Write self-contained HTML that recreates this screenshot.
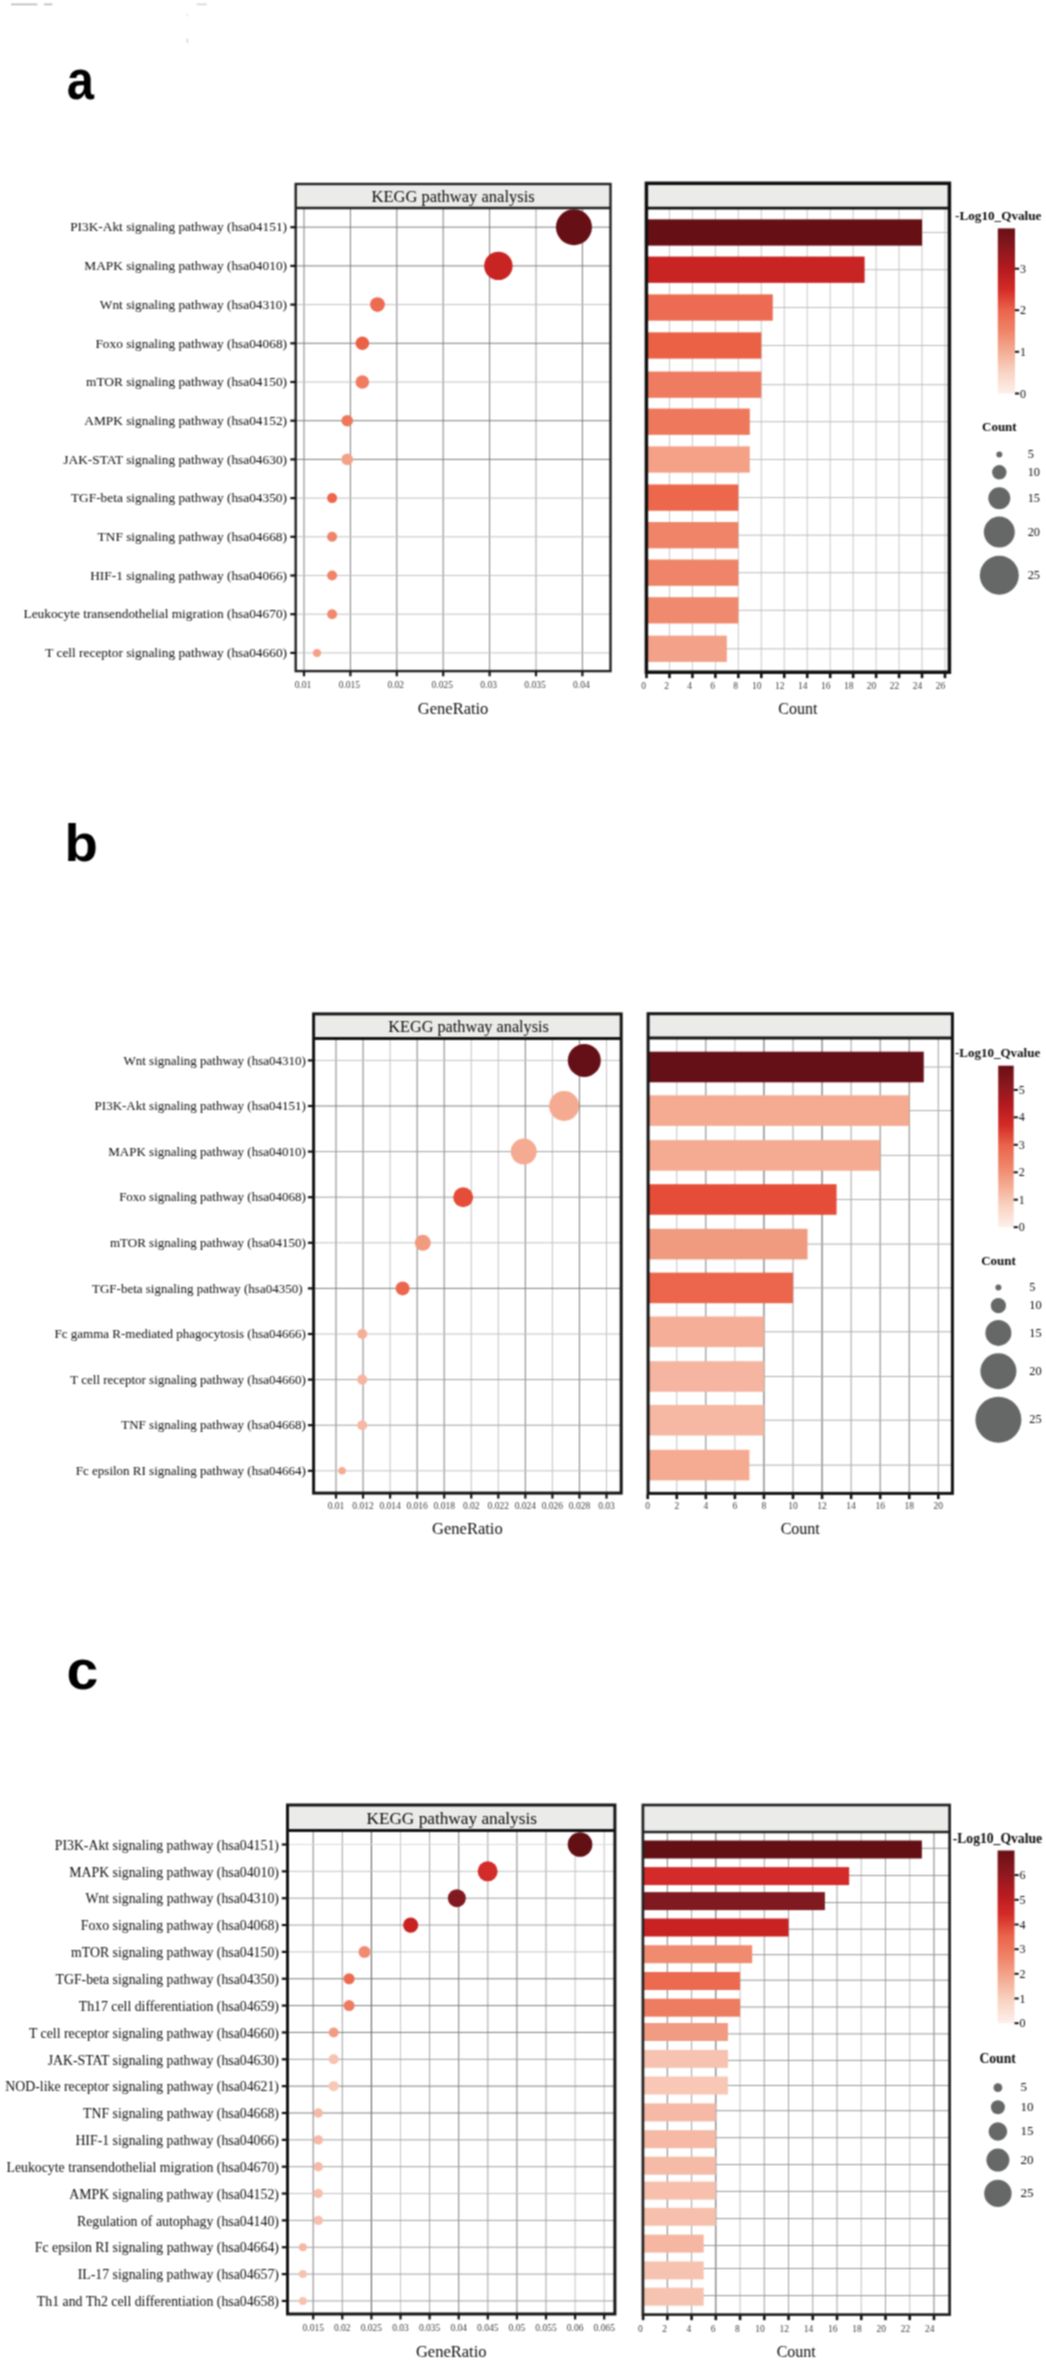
<!DOCTYPE html><html><head><meta charset="utf-8"><title>KEGG pathway analysis</title>
<style>html,body{margin:0;padding:0;background:#fff;}body{width:1046px;height:2363px;overflow:hidden;}svg{display:block;}</style></head><body>
<svg width="1046" height="2363" viewBox="0 0 1046 2363">
<defs><linearGradient id="ga" x1="0" y1="0" x2="0" y2="1"><stop offset="0" stop-color="#690f16"/><stop offset="0.12" stop-color="#8a181e"/><stop offset="0.245" stop-color="#b41a20"/><stop offset="0.37" stop-color="#d42b27"/><stop offset="0.497" stop-color="#ea654b"/><stop offset="0.62" stop-color="#ef8468"/><stop offset="0.748" stop-color="#f4ad95"/><stop offset="0.87" stop-color="#f9d3c3"/><stop offset="1" stop-color="#fdf0ea"/></linearGradient><linearGradient id="gb" x1="0" y1="0" x2="0" y2="1"><stop offset="0" stop-color="#690f16"/><stop offset="0.12" stop-color="#8a181e"/><stop offset="0.245" stop-color="#b41a20"/><stop offset="0.37" stop-color="#d42b27"/><stop offset="0.497" stop-color="#ea654b"/><stop offset="0.62" stop-color="#ef8468"/><stop offset="0.748" stop-color="#f4ad95"/><stop offset="0.87" stop-color="#f9d3c3"/><stop offset="1" stop-color="#fdf0ea"/></linearGradient><linearGradient id="gc" x1="0" y1="0" x2="0" y2="1"><stop offset="0" stop-color="#690f16"/><stop offset="0.12" stop-color="#8a181e"/><stop offset="0.245" stop-color="#b41a20"/><stop offset="0.37" stop-color="#d42b27"/><stop offset="0.497" stop-color="#ea654b"/><stop offset="0.62" stop-color="#ef8468"/><stop offset="0.748" stop-color="#f4ad95"/><stop offset="0.87" stop-color="#f9d3c3"/><stop offset="1" stop-color="#fdf0ea"/></linearGradient><filter id="soft" x="0" y="0" width="100%" height="100%" filterUnits="userSpaceOnUse" color-interpolation-filters="sRGB"><feConvolveMatrix order="3" kernelMatrix="1 2 1 2 4 2 1 2 1" edgeMode="duplicate" preserveAlpha="true"/></filter></defs>
<g filter="url(#soft)">
<rect x="0.00" y="0.00" width="1046.00" height="2363.00" fill="#fff" />
<line x1="11.00" y1="4.40" x2="37.40" y2="4.40" stroke="#b4b4b4" stroke-width="1.5" />
<line x1="44.00" y1="4.40" x2="52.30" y2="4.40" stroke="#b4b4b4" stroke-width="1.5" />
<line x1="196.80" y1="4.40" x2="206.70" y2="4.40" stroke="#d0d0d0" stroke-width="1.4" />
<line x1="187.30" y1="13.00" x2="187.30" y2="16.50" stroke="#e4e4e4" stroke-width="1" />
<line x1="187.30" y1="38.50" x2="187.30" y2="43.00" stroke="#c4c4c4" stroke-width="1" />
<rect x="295.70" y="184.00" width="314.80" height="24.00" fill="#ebebea" />
<rect x="646.40" y="183.30" width="303.00" height="24.80" fill="#ebebea" />
<line x1="304.00" y1="208.00" x2="304.00" y2="671.10" stroke="#7e7e7e" stroke-width="1" />
<line x1="350.40" y1="208.00" x2="350.40" y2="671.10" stroke="#7e7e7e" stroke-width="1" />
<line x1="396.80" y1="208.00" x2="396.80" y2="671.10" stroke="#7e7e7e" stroke-width="1" />
<line x1="443.20" y1="208.00" x2="443.20" y2="671.10" stroke="#7e7e7e" stroke-width="1" />
<line x1="489.60" y1="208.00" x2="489.60" y2="671.10" stroke="#7e7e7e" stroke-width="1" />
<line x1="536.00" y1="208.00" x2="536.00" y2="671.10" stroke="#a0a0a0" stroke-width="1" />
<line x1="582.40" y1="208.00" x2="582.40" y2="671.10" stroke="#7e7e7e" stroke-width="1" />
<line x1="295.70" y1="227.20" x2="610.50" y2="227.20" stroke="#7e7e7e" stroke-width="1" />
<line x1="295.70" y1="265.90" x2="610.50" y2="265.90" stroke="#7e7e7e" stroke-width="1" />
<line x1="295.70" y1="304.60" x2="610.50" y2="304.60" stroke="#c2c2c2" stroke-width="1" />
<line x1="295.70" y1="343.30" x2="610.50" y2="343.30" stroke="#7e7e7e" stroke-width="1" />
<line x1="295.70" y1="382.00" x2="610.50" y2="382.00" stroke="#c2c2c2" stroke-width="1" />
<line x1="295.70" y1="420.70" x2="610.50" y2="420.70" stroke="#7e7e7e" stroke-width="1" />
<line x1="295.70" y1="459.40" x2="610.50" y2="459.40" stroke="#7e7e7e" stroke-width="1" />
<line x1="295.70" y1="498.10" x2="610.50" y2="498.10" stroke="#c2c2c2" stroke-width="1" />
<line x1="295.70" y1="536.80" x2="610.50" y2="536.80" stroke="#c2c2c2" stroke-width="1" />
<line x1="295.70" y1="575.50" x2="610.50" y2="575.50" stroke="#c2c2c2" stroke-width="1" />
<line x1="295.70" y1="614.20" x2="610.50" y2="614.20" stroke="#c2c2c2" stroke-width="1" />
<line x1="295.70" y1="652.90" x2="610.50" y2="652.90" stroke="#c2c2c2" stroke-width="1" />
<line x1="669.46" y1="208.10" x2="669.46" y2="672.20" stroke="#c8c8c8" stroke-width="1" />
<line x1="692.42" y1="208.10" x2="692.42" y2="672.20" stroke="#c8c8c8" stroke-width="1" />
<line x1="715.38" y1="208.10" x2="715.38" y2="672.20" stroke="#c8c8c8" stroke-width="1" />
<line x1="738.34" y1="208.10" x2="738.34" y2="672.20" stroke="#c8c8c8" stroke-width="1" />
<line x1="761.30" y1="208.10" x2="761.30" y2="672.20" stroke="#c8c8c8" stroke-width="1" />
<line x1="784.26" y1="208.10" x2="784.26" y2="672.20" stroke="#c8c8c8" stroke-width="1" />
<line x1="807.22" y1="208.10" x2="807.22" y2="672.20" stroke="#c8c8c8" stroke-width="1" />
<line x1="830.18" y1="208.10" x2="830.18" y2="672.20" stroke="#c8c8c8" stroke-width="1" />
<line x1="853.14" y1="208.10" x2="853.14" y2="672.20" stroke="#c8c8c8" stroke-width="1" />
<line x1="876.10" y1="208.10" x2="876.10" y2="672.20" stroke="#c8c8c8" stroke-width="1" />
<line x1="899.06" y1="208.10" x2="899.06" y2="672.20" stroke="#c8c8c8" stroke-width="1" />
<line x1="922.02" y1="208.10" x2="922.02" y2="672.20" stroke="#c8c8c8" stroke-width="1" />
<line x1="944.98" y1="208.10" x2="944.98" y2="672.20" stroke="#c8c8c8" stroke-width="1" />
<line x1="646.40" y1="232.50" x2="949.40" y2="232.50" stroke="#bcbcbc" stroke-width="1" />
<line x1="646.40" y1="269.70" x2="949.40" y2="269.70" stroke="#bcbcbc" stroke-width="1" />
<line x1="646.40" y1="307.50" x2="949.40" y2="307.50" stroke="#bcbcbc" stroke-width="1" />
<line x1="646.40" y1="345.50" x2="949.40" y2="345.50" stroke="#bcbcbc" stroke-width="1" />
<line x1="646.40" y1="384.70" x2="949.40" y2="384.70" stroke="#bcbcbc" stroke-width="1" />
<line x1="646.40" y1="421.70" x2="949.40" y2="421.70" stroke="#bcbcbc" stroke-width="1" />
<line x1="646.40" y1="459.50" x2="949.40" y2="459.50" stroke="#bcbcbc" stroke-width="1" />
<line x1="646.40" y1="497.60" x2="949.40" y2="497.60" stroke="#bcbcbc" stroke-width="1" />
<line x1="646.40" y1="535.20" x2="949.40" y2="535.20" stroke="#bcbcbc" stroke-width="1" />
<line x1="646.40" y1="572.70" x2="949.40" y2="572.70" stroke="#bcbcbc" stroke-width="1" />
<line x1="646.40" y1="610.30" x2="949.40" y2="610.30" stroke="#bcbcbc" stroke-width="1" />
<line x1="646.40" y1="648.80" x2="949.40" y2="648.80" stroke="#bcbcbc" stroke-width="1" />
<circle cx="573.94" cy="227.20" r="18.00" fill="#660f14"/>
<circle cx="498.37" cy="265.90" r="14.20" fill="#c92424"/>
<circle cx="377.45" cy="304.60" r="7.40" fill="#ed6b52"/>
<circle cx="362.34" cy="343.30" r="6.80" fill="#ea6146"/>
<circle cx="362.34" cy="382.00" r="6.80" fill="#ef7c60"/>
<circle cx="347.23" cy="420.70" r="5.80" fill="#ee785c"/>
<circle cx="347.23" cy="459.40" r="5.80" fill="#f4a188"/>
<circle cx="332.11" cy="498.10" r="5.00" fill="#ec674c"/>
<circle cx="332.11" cy="536.80" r="5.00" fill="#ef8468"/>
<circle cx="332.11" cy="575.50" r="5.00" fill="#ef8468"/>
<circle cx="332.11" cy="614.20" r="5.00" fill="#f08a6e"/>
<circle cx="317.00" cy="652.90" r="4.00" fill="#f4a189"/>
<rect x="646.40" y="219.35" width="275.62" height="26.30" fill="#660f14" />
<rect x="646.40" y="256.55" width="218.22" height="26.30" fill="#c92424" />
<rect x="646.40" y="294.35" width="126.38" height="26.30" fill="#ed6b52" />
<rect x="646.40" y="332.35" width="114.90" height="26.30" fill="#ea6146" />
<rect x="646.40" y="371.55" width="114.90" height="26.30" fill="#ef7c60" />
<rect x="646.40" y="408.55" width="103.42" height="26.30" fill="#ee785c" />
<rect x="646.40" y="446.35" width="103.42" height="26.30" fill="#f4a188" />
<rect x="646.40" y="484.45" width="91.94" height="26.30" fill="#ec674c" />
<rect x="646.40" y="522.05" width="91.94" height="26.30" fill="#ef8468" />
<rect x="646.40" y="559.55" width="91.94" height="26.30" fill="#ef8468" />
<rect x="646.40" y="597.15" width="91.94" height="26.30" fill="#f08a6e" />
<rect x="646.40" y="635.65" width="80.46" height="26.30" fill="#f4a189" />
<rect x="295.70" y="184.00" width="314.80" height="487.10" fill="none" stroke="#222" stroke-width="2.4"/>
<line x1="295.70" y1="208.00" x2="610.50" y2="208.00" stroke="#222" stroke-width="2.4" />
<rect x="646.40" y="183.30" width="303.00" height="488.90" fill="none" stroke="#111" stroke-width="3.5"/>
<line x1="646.40" y1="208.10" x2="949.40" y2="208.10" stroke="#111" stroke-width="2.8" />
<text x="453.10" y="201.50" font-family='"Liberation Serif", serif' font-size="16.5" font-weight="normal" text-anchor="middle" fill="#0c0c0c" >KEGG pathway analysis</text>
<text x="287.00" y="231.47" font-family='"Liberation Serif", serif' font-size="13.35" font-weight="normal" text-anchor="end" fill="#0c0c0c" >PI3K-Akt signaling pathway (hsa04151)</text>
<line x1="290.30" y1="227.20" x2="295.70" y2="227.20" stroke="#111" stroke-width="2.2" />
<text x="287.00" y="270.17" font-family='"Liberation Serif", serif' font-size="13.35" font-weight="normal" text-anchor="end" fill="#0c0c0c" >MAPK signaling pathway (hsa04010)</text>
<line x1="290.30" y1="265.90" x2="295.70" y2="265.90" stroke="#111" stroke-width="2.2" />
<text x="287.00" y="308.87" font-family='"Liberation Serif", serif' font-size="13.35" font-weight="normal" text-anchor="end" fill="#0c0c0c" >Wnt signaling pathway (hsa04310)</text>
<line x1="290.30" y1="304.60" x2="295.70" y2="304.60" stroke="#111" stroke-width="2.2" />
<text x="287.00" y="347.57" font-family='"Liberation Serif", serif' font-size="13.35" font-weight="normal" text-anchor="end" fill="#0c0c0c" >Foxo signaling pathway (hsa04068)</text>
<line x1="290.30" y1="343.30" x2="295.70" y2="343.30" stroke="#111" stroke-width="2.2" />
<text x="287.00" y="386.27" font-family='"Liberation Serif", serif' font-size="13.35" font-weight="normal" text-anchor="end" fill="#0c0c0c" >mTOR signaling pathway (hsa04150)</text>
<line x1="290.30" y1="382.00" x2="295.70" y2="382.00" stroke="#111" stroke-width="2.2" />
<text x="287.00" y="424.97" font-family='"Liberation Serif", serif' font-size="13.35" font-weight="normal" text-anchor="end" fill="#0c0c0c" >AMPK signaling pathway (hsa04152)</text>
<line x1="290.30" y1="420.70" x2="295.70" y2="420.70" stroke="#111" stroke-width="2.2" />
<text x="287.00" y="463.67" font-family='"Liberation Serif", serif' font-size="13.35" font-weight="normal" text-anchor="end" fill="#0c0c0c" >JAK-STAT signaling pathway (hsa04630)</text>
<line x1="290.30" y1="459.40" x2="295.70" y2="459.40" stroke="#111" stroke-width="2.2" />
<text x="287.00" y="502.37" font-family='"Liberation Serif", serif' font-size="13.35" font-weight="normal" text-anchor="end" fill="#0c0c0c" >TGF-beta signaling pathway (hsa04350)</text>
<line x1="290.30" y1="498.10" x2="295.70" y2="498.10" stroke="#111" stroke-width="2.2" />
<text x="287.00" y="541.07" font-family='"Liberation Serif", serif' font-size="13.35" font-weight="normal" text-anchor="end" fill="#0c0c0c" >TNF signaling pathway (hsa04668)</text>
<line x1="290.30" y1="536.80" x2="295.70" y2="536.80" stroke="#111" stroke-width="2.2" />
<text x="287.00" y="579.77" font-family='"Liberation Serif", serif' font-size="13.35" font-weight="normal" text-anchor="end" fill="#0c0c0c" >HIF-1 signaling pathway (hsa04066)</text>
<line x1="290.30" y1="575.50" x2="295.70" y2="575.50" stroke="#111" stroke-width="2.2" />
<text x="287.00" y="618.47" font-family='"Liberation Serif", serif' font-size="13.35" font-weight="normal" text-anchor="end" fill="#0c0c0c" >Leukocyte transendothelial migration (hsa04670)</text>
<line x1="290.30" y1="614.20" x2="295.70" y2="614.20" stroke="#111" stroke-width="2.2" />
<text x="287.00" y="657.17" font-family='"Liberation Serif", serif' font-size="13.35" font-weight="normal" text-anchor="end" fill="#0c0c0c" >T cell receptor signaling pathway (hsa04660)</text>
<line x1="290.30" y1="652.90" x2="295.70" y2="652.90" stroke="#111" stroke-width="2.2" />
<line x1="304.00" y1="671.80" x2="304.00" y2="676.30" stroke="#111" stroke-width="2.2" />
<text x="303.00" y="688.20" font-family='"Liberation Serif", serif' font-size="9.5" font-weight="normal" text-anchor="middle" fill="#3c3c3c" >0.01</text>
<line x1="350.40" y1="671.80" x2="350.40" y2="676.30" stroke="#111" stroke-width="2.2" />
<text x="349.40" y="688.20" font-family='"Liberation Serif", serif' font-size="9.5" font-weight="normal" text-anchor="middle" fill="#3c3c3c" >0.015</text>
<line x1="396.80" y1="671.80" x2="396.80" y2="676.30" stroke="#111" stroke-width="2.2" />
<text x="395.80" y="688.20" font-family='"Liberation Serif", serif' font-size="9.5" font-weight="normal" text-anchor="middle" fill="#3c3c3c" >0.02</text>
<line x1="443.20" y1="671.80" x2="443.20" y2="676.30" stroke="#111" stroke-width="2.2" />
<text x="442.20" y="688.20" font-family='"Liberation Serif", serif' font-size="9.5" font-weight="normal" text-anchor="middle" fill="#3c3c3c" >0.025</text>
<line x1="489.60" y1="671.80" x2="489.60" y2="676.30" stroke="#111" stroke-width="2.2" />
<text x="488.60" y="688.20" font-family='"Liberation Serif", serif' font-size="9.5" font-weight="normal" text-anchor="middle" fill="#3c3c3c" >0.03</text>
<line x1="536.00" y1="671.80" x2="536.00" y2="676.30" stroke="#111" stroke-width="2.2" />
<text x="535.00" y="688.20" font-family='"Liberation Serif", serif' font-size="9.5" font-weight="normal" text-anchor="middle" fill="#3c3c3c" >0.035</text>
<line x1="582.40" y1="671.80" x2="582.40" y2="676.30" stroke="#111" stroke-width="2.2" />
<text x="581.40" y="688.20" font-family='"Liberation Serif", serif' font-size="9.5" font-weight="normal" text-anchor="middle" fill="#3c3c3c" >0.04</text>
<line x1="646.50" y1="673.45" x2="646.50" y2="678.15" stroke="#111" stroke-width="2.6" />
<text x="643.70" y="688.80" font-family='"Liberation Serif", serif' font-size="9.5" font-weight="normal" text-anchor="middle" fill="#3c3c3c" >0</text>
<line x1="669.46" y1="673.45" x2="669.46" y2="678.15" stroke="#111" stroke-width="2.6" />
<text x="666.66" y="688.80" font-family='"Liberation Serif", serif' font-size="9.5" font-weight="normal" text-anchor="middle" fill="#3c3c3c" >2</text>
<line x1="692.42" y1="673.45" x2="692.42" y2="678.15" stroke="#111" stroke-width="2.6" />
<text x="689.62" y="688.80" font-family='"Liberation Serif", serif' font-size="9.5" font-weight="normal" text-anchor="middle" fill="#3c3c3c" >4</text>
<line x1="715.38" y1="673.45" x2="715.38" y2="678.15" stroke="#111" stroke-width="2.6" />
<text x="712.58" y="688.80" font-family='"Liberation Serif", serif' font-size="9.5" font-weight="normal" text-anchor="middle" fill="#3c3c3c" >6</text>
<line x1="738.34" y1="673.45" x2="738.34" y2="678.15" stroke="#111" stroke-width="2.6" />
<text x="735.54" y="688.80" font-family='"Liberation Serif", serif' font-size="9.5" font-weight="normal" text-anchor="middle" fill="#3c3c3c" >8</text>
<line x1="761.30" y1="673.45" x2="761.30" y2="678.15" stroke="#111" stroke-width="2.6" />
<text x="756.80" y="688.80" font-family='"Liberation Serif", serif' font-size="9.5" font-weight="normal" text-anchor="middle" fill="#3c3c3c" >10</text>
<line x1="784.26" y1="673.45" x2="784.26" y2="678.15" stroke="#111" stroke-width="2.6" />
<text x="779.76" y="688.80" font-family='"Liberation Serif", serif' font-size="9.5" font-weight="normal" text-anchor="middle" fill="#3c3c3c" >12</text>
<line x1="807.22" y1="673.45" x2="807.22" y2="678.15" stroke="#111" stroke-width="2.6" />
<text x="802.72" y="688.80" font-family='"Liberation Serif", serif' font-size="9.5" font-weight="normal" text-anchor="middle" fill="#3c3c3c" >14</text>
<line x1="830.18" y1="673.45" x2="830.18" y2="678.15" stroke="#111" stroke-width="2.6" />
<text x="825.68" y="688.80" font-family='"Liberation Serif", serif' font-size="9.5" font-weight="normal" text-anchor="middle" fill="#3c3c3c" >16</text>
<line x1="853.14" y1="673.45" x2="853.14" y2="678.15" stroke="#111" stroke-width="2.6" />
<text x="848.64" y="688.80" font-family='"Liberation Serif", serif' font-size="9.5" font-weight="normal" text-anchor="middle" fill="#3c3c3c" >18</text>
<line x1="876.10" y1="673.45" x2="876.10" y2="678.15" stroke="#111" stroke-width="2.6" />
<text x="871.60" y="688.80" font-family='"Liberation Serif", serif' font-size="9.5" font-weight="normal" text-anchor="middle" fill="#3c3c3c" >20</text>
<line x1="899.06" y1="673.45" x2="899.06" y2="678.15" stroke="#111" stroke-width="2.6" />
<text x="894.56" y="688.80" font-family='"Liberation Serif", serif' font-size="9.5" font-weight="normal" text-anchor="middle" fill="#3c3c3c" >22</text>
<line x1="922.02" y1="673.45" x2="922.02" y2="678.15" stroke="#111" stroke-width="2.6" />
<text x="917.52" y="688.80" font-family='"Liberation Serif", serif' font-size="9.5" font-weight="normal" text-anchor="middle" fill="#3c3c3c" >24</text>
<line x1="944.98" y1="673.45" x2="944.98" y2="678.15" stroke="#111" stroke-width="2.6" />
<text x="940.48" y="688.80" font-family='"Liberation Serif", serif' font-size="9.5" font-weight="normal" text-anchor="middle" fill="#3c3c3c" >26</text>
<text x="453.10" y="713.60" font-family='"Liberation Serif", serif' font-size="16.5" font-weight="normal" text-anchor="middle" fill="#0c0c0c" >GeneRatio</text>
<text x="797.90" y="713.60" font-family='"Liberation Serif", serif' font-size="16" font-weight="normal" text-anchor="middle" fill="#0c0c0c" >Count</text>
<text transform="translate(66.7,98.7) scale(0.885,1)" font-family='"Liberation Sans", sans-serif' font-size="55.3" font-weight="bold" fill="#000">a</text>
<text x="955.00" y="220.30" font-family='"Liberation Serif", serif' font-size="13.2" font-weight="bold" text-anchor="start" fill="#0c0c0c" >-Log10_Qvalue</text>
<rect x="997.80" y="228.40" width="17.20" height="165.10" fill="url(#ga)"/>
<line x1="1015.00" y1="268.70" x2="1019.20" y2="268.70" stroke="#111" stroke-width="2" />
<text x="1020.00" y="272.80" font-family='"Liberation Serif", serif' font-size="12" font-weight="normal" text-anchor="start" fill="#0c0c0c" >3</text>
<line x1="1015.00" y1="310.20" x2="1019.20" y2="310.20" stroke="#111" stroke-width="2" />
<text x="1020.00" y="314.30" font-family='"Liberation Serif", serif' font-size="12" font-weight="normal" text-anchor="start" fill="#0c0c0c" >2</text>
<line x1="1015.00" y1="351.80" x2="1019.20" y2="351.80" stroke="#111" stroke-width="2" />
<text x="1020.00" y="355.90" font-family='"Liberation Serif", serif' font-size="12" font-weight="normal" text-anchor="start" fill="#0c0c0c" >1</text>
<line x1="1015.00" y1="393.50" x2="1019.20" y2="393.50" stroke="#111" stroke-width="2" />
<text x="1020.00" y="397.60" font-family='"Liberation Serif", serif' font-size="12" font-weight="normal" text-anchor="start" fill="#0c0c0c" >0</text>
<text x="982.00" y="431.30" font-family='"Liberation Serif", serif' font-size="13" font-weight="bold" text-anchor="start" fill="#0c0c0c" >Count</text>
<circle cx="999.30" cy="454.60" r="3.00" fill="#666867"/>
<text x="1027.70" y="458.30" font-family='"Liberation Serif", serif' font-size="12.3" font-weight="normal" text-anchor="start" fill="#0c0c0c" >5</text>
<circle cx="999.30" cy="472.30" r="7.20" fill="#666867"/>
<text x="1027.70" y="476.00" font-family='"Liberation Serif", serif' font-size="12.3" font-weight="normal" text-anchor="start" fill="#0c0c0c" >10</text>
<circle cx="999.30" cy="498.20" r="11.00" fill="#666867"/>
<text x="1027.70" y="501.90" font-family='"Liberation Serif", serif' font-size="12.3" font-weight="normal" text-anchor="start" fill="#0c0c0c" >15</text>
<circle cx="999.30" cy="532.10" r="15.50" fill="#666867"/>
<text x="1027.70" y="535.80" font-family='"Liberation Serif", serif' font-size="12.3" font-weight="normal" text-anchor="start" fill="#0c0c0c" >20</text>
<circle cx="999.30" cy="575.20" r="19.50" fill="#666867"/>
<text x="1027.70" y="578.90" font-family='"Liberation Serif", serif' font-size="12.3" font-weight="normal" text-anchor="start" fill="#0c0c0c" >25</text>
<rect x="313.60" y="1013.90" width="307.60" height="24.50" fill="#ebebea" />
<rect x="648.10" y="1013.70" width="304.30" height="24.30" fill="#ebebea" />
<line x1="336.00" y1="1038.40" x2="336.00" y2="1493.10" stroke="#7e7e7e" stroke-width="1" />
<line x1="363.05" y1="1038.40" x2="363.05" y2="1493.10" stroke="#7e7e7e" stroke-width="1" />
<line x1="390.10" y1="1038.40" x2="390.10" y2="1493.10" stroke="#c2c2c2" stroke-width="1" />
<line x1="417.15" y1="1038.40" x2="417.15" y2="1493.10" stroke="#7e7e7e" stroke-width="1" />
<line x1="444.20" y1="1038.40" x2="444.20" y2="1493.10" stroke="#7e7e7e" stroke-width="1" />
<line x1="471.25" y1="1038.40" x2="471.25" y2="1493.10" stroke="#c2c2c2" stroke-width="1" />
<line x1="498.30" y1="1038.40" x2="498.30" y2="1493.10" stroke="#c2c2c2" stroke-width="1" />
<line x1="525.35" y1="1038.40" x2="525.35" y2="1493.10" stroke="#7e7e7e" stroke-width="1" />
<line x1="552.40" y1="1038.40" x2="552.40" y2="1493.10" stroke="#c2c2c2" stroke-width="1" />
<line x1="579.45" y1="1038.40" x2="579.45" y2="1493.10" stroke="#7e7e7e" stroke-width="1" />
<line x1="606.50" y1="1038.40" x2="606.50" y2="1493.10" stroke="#c2c2c2" stroke-width="1" />
<line x1="313.60" y1="1060.40" x2="621.20" y2="1060.40" stroke="#c2c2c2" stroke-width="1" />
<line x1="313.60" y1="1106.00" x2="621.20" y2="1106.00" stroke="#7e7e7e" stroke-width="1" />
<line x1="313.60" y1="1151.60" x2="621.20" y2="1151.60" stroke="#a0a0a0" stroke-width="1" />
<line x1="313.60" y1="1197.20" x2="621.20" y2="1197.20" stroke="#a0a0a0" stroke-width="1" />
<line x1="313.60" y1="1242.80" x2="621.20" y2="1242.80" stroke="#c2c2c2" stroke-width="1" />
<line x1="313.60" y1="1288.40" x2="621.20" y2="1288.40" stroke="#7e7e7e" stroke-width="1" />
<line x1="313.60" y1="1334.00" x2="621.20" y2="1334.00" stroke="#c2c2c2" stroke-width="1" />
<line x1="313.60" y1="1379.60" x2="621.20" y2="1379.60" stroke="#a0a0a0" stroke-width="1" />
<line x1="313.60" y1="1425.20" x2="621.20" y2="1425.20" stroke="#a0a0a0" stroke-width="1" />
<line x1="313.60" y1="1470.80" x2="621.20" y2="1470.80" stroke="#c2c2c2" stroke-width="1" />
<line x1="676.76" y1="1038.00" x2="676.76" y2="1493.40" stroke="#c2c2c2" stroke-width="1" />
<line x1="705.82" y1="1038.00" x2="705.82" y2="1493.40" stroke="#7e7e7e" stroke-width="1" />
<line x1="734.88" y1="1038.00" x2="734.88" y2="1493.40" stroke="#c2c2c2" stroke-width="1" />
<line x1="763.94" y1="1038.00" x2="763.94" y2="1493.40" stroke="#565656" stroke-width="1" />
<line x1="793.00" y1="1038.00" x2="793.00" y2="1493.40" stroke="#a0a0a0" stroke-width="1" />
<line x1="822.06" y1="1038.00" x2="822.06" y2="1493.40" stroke="#565656" stroke-width="1" />
<line x1="851.12" y1="1038.00" x2="851.12" y2="1493.40" stroke="#a0a0a0" stroke-width="1" />
<line x1="880.18" y1="1038.00" x2="880.18" y2="1493.40" stroke="#7e7e7e" stroke-width="1" />
<line x1="909.24" y1="1038.00" x2="909.24" y2="1493.40" stroke="#7e7e7e" stroke-width="1" />
<line x1="938.30" y1="1038.00" x2="938.30" y2="1493.40" stroke="#a0a0a0" stroke-width="1" />
<line x1="648.10" y1="1067.00" x2="952.40" y2="1067.00" stroke="#adadad" stroke-width="1" />
<line x1="648.10" y1="1110.60" x2="952.40" y2="1110.60" stroke="#adadad" stroke-width="1" />
<line x1="648.10" y1="1155.40" x2="952.40" y2="1155.40" stroke="#adadad" stroke-width="1" />
<line x1="648.10" y1="1199.50" x2="952.40" y2="1199.50" stroke="#adadad" stroke-width="1" />
<line x1="648.10" y1="1244.10" x2="952.40" y2="1244.10" stroke="#adadad" stroke-width="1" />
<line x1="648.10" y1="1287.90" x2="952.40" y2="1287.90" stroke="#adadad" stroke-width="1" />
<line x1="648.10" y1="1331.80" x2="952.40" y2="1331.80" stroke="#adadad" stroke-width="1" />
<line x1="648.10" y1="1376.50" x2="952.40" y2="1376.50" stroke="#adadad" stroke-width="1" />
<line x1="648.10" y1="1420.20" x2="952.40" y2="1420.20" stroke="#adadad" stroke-width="1" />
<line x1="648.10" y1="1465.10" x2="952.40" y2="1465.10" stroke="#adadad" stroke-width="1" />
<circle cx="584.30" cy="1060.40" r="16.50" fill="#651017"/>
<circle cx="564.12" cy="1106.00" r="15.00" fill="#f5ab92"/>
<circle cx="523.74" cy="1151.60" r="13.00" fill="#f5ab92"/>
<circle cx="463.18" cy="1197.20" r="10.00" fill="#e54d38"/>
<circle cx="422.81" cy="1242.80" r="8.00" fill="#f09a80"/>
<circle cx="402.62" cy="1288.40" r="7.00" fill="#ec664d"/>
<circle cx="362.25" cy="1334.00" r="5.00" fill="#f5ae97"/>
<circle cx="362.25" cy="1379.60" r="5.00" fill="#f5b5a0"/>
<circle cx="362.25" cy="1425.20" r="5.00" fill="#f6b7a3"/>
<circle cx="342.06" cy="1470.80" r="3.80" fill="#f5ab92"/>
<rect x="648.10" y="1051.70" width="275.67" height="30.60" fill="#651017" />
<rect x="648.10" y="1095.30" width="261.14" height="30.60" fill="#f5ab92" />
<rect x="648.10" y="1140.10" width="232.08" height="30.60" fill="#f5ab92" />
<rect x="648.10" y="1184.20" width="188.49" height="30.60" fill="#e54d38" />
<rect x="648.10" y="1228.80" width="159.43" height="30.60" fill="#f09a80" />
<rect x="648.10" y="1272.60" width="144.90" height="30.60" fill="#ec664d" />
<rect x="648.10" y="1316.50" width="115.84" height="30.60" fill="#f5ae97" />
<rect x="648.10" y="1361.20" width="115.84" height="30.60" fill="#f5b5a0" />
<rect x="648.10" y="1404.90" width="115.84" height="30.60" fill="#f6b7a3" />
<rect x="648.10" y="1449.80" width="101.31" height="30.60" fill="#f5ab92" />
<rect x="313.60" y="1013.90" width="307.60" height="479.20" fill="none" stroke="#151515" stroke-width="3"/>
<line x1="313.60" y1="1038.40" x2="621.20" y2="1038.40" stroke="#151515" stroke-width="3" />
<rect x="648.10" y="1013.70" width="304.30" height="479.70" fill="none" stroke="#151515" stroke-width="3"/>
<line x1="648.10" y1="1038.00" x2="952.40" y2="1038.00" stroke="#151515" stroke-width="3" />
<text x="468.60" y="1031.80" font-family='"Liberation Serif", serif' font-size="16.25" font-weight="normal" text-anchor="middle" fill="#0c0c0c" >KEGG pathway analysis</text>
<text x="305.80" y="1064.56" font-family='"Liberation Serif", serif' font-size="13.0" font-weight="normal" text-anchor="end" fill="#0c0c0c" >Wnt signaling pathway (hsa04310)</text>
<line x1="307.90" y1="1060.40" x2="313.60" y2="1060.40" stroke="#111" stroke-width="2.2" />
<text x="305.80" y="1110.16" font-family='"Liberation Serif", serif' font-size="13.0" font-weight="normal" text-anchor="end" fill="#0c0c0c" >PI3K-Akt signaling pathway (hsa04151)</text>
<line x1="307.90" y1="1106.00" x2="313.60" y2="1106.00" stroke="#111" stroke-width="2.2" />
<text x="305.80" y="1155.76" font-family='"Liberation Serif", serif' font-size="13.0" font-weight="normal" text-anchor="end" fill="#0c0c0c" >MAPK signaling pathway (hsa04010)</text>
<line x1="307.90" y1="1151.60" x2="313.60" y2="1151.60" stroke="#111" stroke-width="2.2" />
<text x="305.80" y="1201.36" font-family='"Liberation Serif", serif' font-size="13.0" font-weight="normal" text-anchor="end" fill="#0c0c0c" >Foxo signaling pathway (hsa04068)</text>
<line x1="307.90" y1="1197.20" x2="313.60" y2="1197.20" stroke="#111" stroke-width="2.2" />
<text x="305.80" y="1246.96" font-family='"Liberation Serif", serif' font-size="13.0" font-weight="normal" text-anchor="end" fill="#0c0c0c" >mTOR signaling pathway (hsa04150)</text>
<line x1="307.90" y1="1242.80" x2="313.60" y2="1242.80" stroke="#111" stroke-width="2.2" />
<text x="302.50" y="1292.56" font-family='"Liberation Serif", serif' font-size="13.0" font-weight="normal" text-anchor="end" fill="#0c0c0c" >TGF-beta signaling pathway (hsa04350)</text>
<line x1="307.90" y1="1288.40" x2="313.60" y2="1288.40" stroke="#111" stroke-width="2.2" />
<text x="305.80" y="1338.16" font-family='"Liberation Serif", serif' font-size="13.0" font-weight="normal" text-anchor="end" fill="#0c0c0c" >Fc gamma R-mediated phagocytosis (hsa04666)</text>
<line x1="307.90" y1="1334.00" x2="313.60" y2="1334.00" stroke="#111" stroke-width="2.2" />
<text x="305.80" y="1383.76" font-family='"Liberation Serif", serif' font-size="13.0" font-weight="normal" text-anchor="end" fill="#0c0c0c" >T cell receptor signaling pathway (hsa04660)</text>
<line x1="307.90" y1="1379.60" x2="313.60" y2="1379.60" stroke="#111" stroke-width="2.2" />
<text x="305.80" y="1429.36" font-family='"Liberation Serif", serif' font-size="13.0" font-weight="normal" text-anchor="end" fill="#0c0c0c" >TNF signaling pathway (hsa04668)</text>
<line x1="307.90" y1="1425.20" x2="313.60" y2="1425.20" stroke="#111" stroke-width="2.2" />
<text x="305.80" y="1474.96" font-family='"Liberation Serif", serif' font-size="13.0" font-weight="normal" text-anchor="end" fill="#0c0c0c" >Fc epsilon RI signaling pathway (hsa04664)</text>
<line x1="307.90" y1="1470.80" x2="313.60" y2="1470.80" stroke="#111" stroke-width="2.2" />
<line x1="336.00" y1="1494.10" x2="336.00" y2="1498.60" stroke="#111" stroke-width="2.2" />
<text x="336.00" y="1508.70" font-family='"Liberation Serif", serif' font-size="9.5" font-weight="normal" text-anchor="middle" fill="#3c3c3c" >0.01</text>
<line x1="363.05" y1="1494.10" x2="363.05" y2="1498.60" stroke="#111" stroke-width="2.2" />
<text x="363.05" y="1508.70" font-family='"Liberation Serif", serif' font-size="9.5" font-weight="normal" text-anchor="middle" fill="#3c3c3c" >0.012</text>
<line x1="390.10" y1="1494.10" x2="390.10" y2="1498.60" stroke="#111" stroke-width="2.2" />
<text x="390.10" y="1508.70" font-family='"Liberation Serif", serif' font-size="9.5" font-weight="normal" text-anchor="middle" fill="#3c3c3c" >0.014</text>
<line x1="417.15" y1="1494.10" x2="417.15" y2="1498.60" stroke="#111" stroke-width="2.2" />
<text x="417.15" y="1508.70" font-family='"Liberation Serif", serif' font-size="9.5" font-weight="normal" text-anchor="middle" fill="#3c3c3c" >0.016</text>
<line x1="444.20" y1="1494.10" x2="444.20" y2="1498.60" stroke="#111" stroke-width="2.2" />
<text x="444.20" y="1508.70" font-family='"Liberation Serif", serif' font-size="9.5" font-weight="normal" text-anchor="middle" fill="#3c3c3c" >0.018</text>
<line x1="471.25" y1="1494.10" x2="471.25" y2="1498.60" stroke="#111" stroke-width="2.2" />
<text x="471.25" y="1508.70" font-family='"Liberation Serif", serif' font-size="9.5" font-weight="normal" text-anchor="middle" fill="#3c3c3c" >0.02</text>
<line x1="498.30" y1="1494.10" x2="498.30" y2="1498.60" stroke="#111" stroke-width="2.2" />
<text x="498.30" y="1508.70" font-family='"Liberation Serif", serif' font-size="9.5" font-weight="normal" text-anchor="middle" fill="#3c3c3c" >0.022</text>
<line x1="525.35" y1="1494.10" x2="525.35" y2="1498.60" stroke="#111" stroke-width="2.2" />
<text x="525.35" y="1508.70" font-family='"Liberation Serif", serif' font-size="9.5" font-weight="normal" text-anchor="middle" fill="#3c3c3c" >0.024</text>
<line x1="552.40" y1="1494.10" x2="552.40" y2="1498.60" stroke="#111" stroke-width="2.2" />
<text x="552.40" y="1508.70" font-family='"Liberation Serif", serif' font-size="9.5" font-weight="normal" text-anchor="middle" fill="#3c3c3c" >0.026</text>
<line x1="579.45" y1="1494.10" x2="579.45" y2="1498.60" stroke="#111" stroke-width="2.2" />
<text x="579.45" y="1508.70" font-family='"Liberation Serif", serif' font-size="9.5" font-weight="normal" text-anchor="middle" fill="#3c3c3c" >0.028</text>
<line x1="606.50" y1="1494.10" x2="606.50" y2="1498.60" stroke="#111" stroke-width="2.2" />
<text x="606.50" y="1508.70" font-family='"Liberation Serif", serif' font-size="9.5" font-weight="normal" text-anchor="middle" fill="#3c3c3c" >0.03</text>
<line x1="647.70" y1="1494.40" x2="647.70" y2="1499.10" stroke="#111" stroke-width="2.6" />
<text x="647.70" y="1509.30" font-family='"Liberation Serif", serif' font-size="9.5" font-weight="normal" text-anchor="middle" fill="#3c3c3c" >0</text>
<line x1="676.76" y1="1494.40" x2="676.76" y2="1499.10" stroke="#111" stroke-width="2.6" />
<text x="676.76" y="1509.30" font-family='"Liberation Serif", serif' font-size="9.5" font-weight="normal" text-anchor="middle" fill="#3c3c3c" >2</text>
<line x1="705.82" y1="1494.40" x2="705.82" y2="1499.10" stroke="#111" stroke-width="2.6" />
<text x="705.82" y="1509.30" font-family='"Liberation Serif", serif' font-size="9.5" font-weight="normal" text-anchor="middle" fill="#3c3c3c" >4</text>
<line x1="734.88" y1="1494.40" x2="734.88" y2="1499.10" stroke="#111" stroke-width="2.6" />
<text x="734.88" y="1509.30" font-family='"Liberation Serif", serif' font-size="9.5" font-weight="normal" text-anchor="middle" fill="#3c3c3c" >6</text>
<line x1="763.94" y1="1494.40" x2="763.94" y2="1499.10" stroke="#111" stroke-width="2.6" />
<text x="763.94" y="1509.30" font-family='"Liberation Serif", serif' font-size="9.5" font-weight="normal" text-anchor="middle" fill="#3c3c3c" >8</text>
<line x1="793.00" y1="1494.40" x2="793.00" y2="1499.10" stroke="#111" stroke-width="2.6" />
<text x="793.00" y="1509.30" font-family='"Liberation Serif", serif' font-size="9.5" font-weight="normal" text-anchor="middle" fill="#3c3c3c" >10</text>
<line x1="822.06" y1="1494.40" x2="822.06" y2="1499.10" stroke="#111" stroke-width="2.6" />
<text x="822.06" y="1509.30" font-family='"Liberation Serif", serif' font-size="9.5" font-weight="normal" text-anchor="middle" fill="#3c3c3c" >12</text>
<line x1="851.12" y1="1494.40" x2="851.12" y2="1499.10" stroke="#111" stroke-width="2.6" />
<text x="851.12" y="1509.30" font-family='"Liberation Serif", serif' font-size="9.5" font-weight="normal" text-anchor="middle" fill="#3c3c3c" >14</text>
<line x1="880.18" y1="1494.40" x2="880.18" y2="1499.10" stroke="#111" stroke-width="2.6" />
<text x="880.18" y="1509.30" font-family='"Liberation Serif", serif' font-size="9.5" font-weight="normal" text-anchor="middle" fill="#3c3c3c" >16</text>
<line x1="909.24" y1="1494.40" x2="909.24" y2="1499.10" stroke="#111" stroke-width="2.6" />
<text x="909.24" y="1509.30" font-family='"Liberation Serif", serif' font-size="9.5" font-weight="normal" text-anchor="middle" fill="#3c3c3c" >18</text>
<line x1="938.30" y1="1494.40" x2="938.30" y2="1499.10" stroke="#111" stroke-width="2.6" />
<text x="938.30" y="1509.30" font-family='"Liberation Serif", serif' font-size="9.5" font-weight="normal" text-anchor="middle" fill="#3c3c3c" >20</text>
<text x="467.40" y="1534.20" font-family='"Liberation Serif", serif' font-size="16.5" font-weight="normal" text-anchor="middle" fill="#0c0c0c" >GeneRatio</text>
<text x="800.25" y="1534.20" font-family='"Liberation Serif", serif' font-size="16" font-weight="normal" text-anchor="middle" fill="#0c0c0c" >Count</text>
<text transform="translate(64.5,861) scale(1.05,1)" font-family='"Liberation Sans", sans-serif' font-size="52" font-weight="bold" fill="#000">b</text>
<text x="955.00" y="1057.20" font-family='"Liberation Serif", serif' font-size="13" font-weight="bold" text-anchor="start" fill="#0c0c0c" >-Log10_Qvalue</text>
<rect x="998.20" y="1065.70" width="15.50" height="161.50" fill="url(#gb)"/>
<line x1="1013.70" y1="1089.90" x2="1017.90" y2="1089.90" stroke="#111" stroke-width="2" />
<text x="1018.70" y="1094.00" font-family='"Liberation Serif", serif' font-size="12" font-weight="normal" text-anchor="start" fill="#0c0c0c" >5</text>
<line x1="1013.70" y1="1117.30" x2="1017.90" y2="1117.30" stroke="#111" stroke-width="2" />
<text x="1018.70" y="1121.40" font-family='"Liberation Serif", serif' font-size="12" font-weight="normal" text-anchor="start" fill="#0c0c0c" >4</text>
<line x1="1013.70" y1="1144.80" x2="1017.90" y2="1144.80" stroke="#111" stroke-width="2" />
<text x="1018.70" y="1148.90" font-family='"Liberation Serif", serif' font-size="12" font-weight="normal" text-anchor="start" fill="#0c0c0c" >3</text>
<line x1="1013.70" y1="1172.30" x2="1017.90" y2="1172.30" stroke="#111" stroke-width="2" />
<text x="1018.70" y="1176.40" font-family='"Liberation Serif", serif' font-size="12" font-weight="normal" text-anchor="start" fill="#0c0c0c" >2</text>
<line x1="1013.70" y1="1199.70" x2="1017.90" y2="1199.70" stroke="#111" stroke-width="2" />
<text x="1018.70" y="1203.80" font-family='"Liberation Serif", serif' font-size="12" font-weight="normal" text-anchor="start" fill="#0c0c0c" >1</text>
<line x1="1013.70" y1="1227.20" x2="1017.90" y2="1227.20" stroke="#111" stroke-width="2" />
<text x="1018.70" y="1231.30" font-family='"Liberation Serif", serif' font-size="12" font-weight="normal" text-anchor="start" fill="#0c0c0c" >0</text>
<text x="981.20" y="1265.00" font-family='"Liberation Serif", serif' font-size="13" font-weight="bold" text-anchor="start" fill="#0c0c0c" >Count</text>
<circle cx="998.40" cy="1287.50" r="3.00" fill="#666867"/>
<text x="1029.30" y="1291.20" font-family='"Liberation Serif", serif' font-size="12.3" font-weight="normal" text-anchor="start" fill="#0c0c0c" >5</text>
<circle cx="998.40" cy="1305.70" r="7.60" fill="#666867"/>
<text x="1029.30" y="1309.40" font-family='"Liberation Serif", serif' font-size="12.3" font-weight="normal" text-anchor="start" fill="#0c0c0c" >10</text>
<circle cx="998.40" cy="1332.90" r="13.00" fill="#666867"/>
<text x="1029.30" y="1336.60" font-family='"Liberation Serif", serif' font-size="12.3" font-weight="normal" text-anchor="start" fill="#0c0c0c" >15</text>
<circle cx="998.40" cy="1371.20" r="18.00" fill="#666867"/>
<text x="1029.30" y="1374.90" font-family='"Liberation Serif", serif' font-size="12.3" font-weight="normal" text-anchor="start" fill="#0c0c0c" >20</text>
<circle cx="998.40" cy="1419.70" r="23.00" fill="#666867"/>
<text x="1029.30" y="1423.40" font-family='"Liberation Serif", serif' font-size="12.3" font-weight="normal" text-anchor="start" fill="#0c0c0c" >25</text>
<rect x="287.50" y="1805.00" width="327.40" height="25.40" fill="#ebebea" />
<rect x="642.90" y="1805.00" width="306.70" height="27.00" fill="#ebebea" />
<line x1="313.20" y1="1830.40" x2="313.20" y2="2314.00" stroke="#7e7e7e" stroke-width="1" />
<line x1="342.30" y1="1830.40" x2="342.30" y2="2314.00" stroke="#a0a0a0" stroke-width="1" />
<line x1="371.40" y1="1830.40" x2="371.40" y2="2314.00" stroke="#565656" stroke-width="1" />
<line x1="400.50" y1="1830.40" x2="400.50" y2="2314.00" stroke="#c2c2c2" stroke-width="1" />
<line x1="429.60" y1="1830.40" x2="429.60" y2="2314.00" stroke="#a0a0a0" stroke-width="1" />
<line x1="458.70" y1="1830.40" x2="458.70" y2="2314.00" stroke="#7e7e7e" stroke-width="1" />
<line x1="487.80" y1="1830.40" x2="487.80" y2="2314.00" stroke="#a0a0a0" stroke-width="1" />
<line x1="516.90" y1="1830.40" x2="516.90" y2="2314.00" stroke="#7e7e7e" stroke-width="1" />
<line x1="546.00" y1="1830.40" x2="546.00" y2="2314.00" stroke="#a0a0a0" stroke-width="1" />
<line x1="575.10" y1="1830.40" x2="575.10" y2="2314.00" stroke="#c2c2c2" stroke-width="1" />
<line x1="604.20" y1="1830.40" x2="604.20" y2="2314.00" stroke="#c2c2c2" stroke-width="1" />
<line x1="287.50" y1="1844.50" x2="614.90" y2="1844.50" stroke="#dadada" stroke-width="1" />
<line x1="287.50" y1="1871.35" x2="614.90" y2="1871.35" stroke="#c2c2c2" stroke-width="1" />
<line x1="287.50" y1="1898.20" x2="614.90" y2="1898.20" stroke="#a0a0a0" stroke-width="1" />
<line x1="287.50" y1="1925.05" x2="614.90" y2="1925.05" stroke="#a0a0a0" stroke-width="1" />
<line x1="287.50" y1="1951.90" x2="614.90" y2="1951.90" stroke="#c2c2c2" stroke-width="1" />
<line x1="287.50" y1="1978.75" x2="614.90" y2="1978.75" stroke="#7e7e7e" stroke-width="1" />
<line x1="287.50" y1="2005.60" x2="614.90" y2="2005.60" stroke="#7e7e7e" stroke-width="1" />
<line x1="287.50" y1="2032.45" x2="614.90" y2="2032.45" stroke="#7e7e7e" stroke-width="1" />
<line x1="287.50" y1="2059.30" x2="614.90" y2="2059.30" stroke="#a0a0a0" stroke-width="1" />
<line x1="287.50" y1="2086.15" x2="614.90" y2="2086.15" stroke="#7e7e7e" stroke-width="1" />
<line x1="287.50" y1="2113.00" x2="614.90" y2="2113.00" stroke="#7e7e7e" stroke-width="1" />
<line x1="287.50" y1="2139.85" x2="614.90" y2="2139.85" stroke="#a0a0a0" stroke-width="1" />
<line x1="287.50" y1="2166.70" x2="614.90" y2="2166.70" stroke="#a0a0a0" stroke-width="1" />
<line x1="287.50" y1="2193.55" x2="614.90" y2="2193.55" stroke="#c2c2c2" stroke-width="1" />
<line x1="287.50" y1="2220.40" x2="614.90" y2="2220.40" stroke="#a0a0a0" stroke-width="1" />
<line x1="287.50" y1="2247.25" x2="614.90" y2="2247.25" stroke="#a0a0a0" stroke-width="1" />
<line x1="287.50" y1="2274.10" x2="614.90" y2="2274.10" stroke="#a0a0a0" stroke-width="1" />
<line x1="287.50" y1="2300.95" x2="614.90" y2="2300.95" stroke="#a0a0a0" stroke-width="1" />
<line x1="667.34" y1="1832.00" x2="667.34" y2="2314.60" stroke="#7e7e7e" stroke-width="1" />
<line x1="691.58" y1="1832.00" x2="691.58" y2="2314.60" stroke="#a0a0a0" stroke-width="1" />
<line x1="715.82" y1="1832.00" x2="715.82" y2="2314.60" stroke="#565656" stroke-width="1" />
<line x1="740.06" y1="1832.00" x2="740.06" y2="2314.60" stroke="#c2c2c2" stroke-width="1" />
<line x1="764.30" y1="1832.00" x2="764.30" y2="2314.60" stroke="#a0a0a0" stroke-width="1" />
<line x1="788.54" y1="1832.00" x2="788.54" y2="2314.60" stroke="#a0a0a0" stroke-width="1" />
<line x1="812.78" y1="1832.00" x2="812.78" y2="2314.60" stroke="#a0a0a0" stroke-width="1" />
<line x1="837.02" y1="1832.00" x2="837.02" y2="2314.60" stroke="#a0a0a0" stroke-width="1" />
<line x1="861.26" y1="1832.00" x2="861.26" y2="2314.60" stroke="#c2c2c2" stroke-width="1" />
<line x1="885.50" y1="1832.00" x2="885.50" y2="2314.60" stroke="#a0a0a0" stroke-width="1" />
<line x1="909.74" y1="1832.00" x2="909.74" y2="2314.60" stroke="#c2c2c2" stroke-width="1" />
<line x1="933.98" y1="1832.00" x2="933.98" y2="2314.60" stroke="#7e7e7e" stroke-width="1" />
<line x1="642.90" y1="1848.30" x2="949.60" y2="1848.30" stroke="#969696" stroke-width="1" />
<line x1="642.90" y1="1875.50" x2="949.60" y2="1875.50" stroke="#969696" stroke-width="1" />
<line x1="642.90" y1="1902.60" x2="949.60" y2="1902.60" stroke="#969696" stroke-width="1" />
<line x1="642.90" y1="1929.20" x2="949.60" y2="1929.20" stroke="#969696" stroke-width="1" />
<line x1="642.90" y1="1954.70" x2="949.60" y2="1954.70" stroke="#969696" stroke-width="1" />
<line x1="642.90" y1="1980.20" x2="949.60" y2="1980.20" stroke="#969696" stroke-width="1" />
<line x1="642.90" y1="2007.00" x2="949.60" y2="2007.00" stroke="#969696" stroke-width="1" />
<line x1="642.90" y1="2033.90" x2="949.60" y2="2033.90" stroke="#969696" stroke-width="1" />
<line x1="642.90" y1="2060.40" x2="949.60" y2="2060.40" stroke="#969696" stroke-width="1" />
<line x1="642.90" y1="2085.50" x2="949.60" y2="2085.50" stroke="#969696" stroke-width="1" />
<line x1="642.90" y1="2110.70" x2="949.60" y2="2110.70" stroke="#969696" stroke-width="1" />
<line x1="642.90" y1="2137.70" x2="949.60" y2="2137.70" stroke="#969696" stroke-width="1" />
<line x1="642.90" y1="2164.60" x2="949.60" y2="2164.60" stroke="#969696" stroke-width="1" />
<line x1="642.90" y1="2191.40" x2="949.60" y2="2191.40" stroke="#969696" stroke-width="1" />
<line x1="642.90" y1="2218.60" x2="949.60" y2="2218.60" stroke="#969696" stroke-width="1" />
<line x1="642.90" y1="2245.50" x2="949.60" y2="2245.50" stroke="#969696" stroke-width="1" />
<line x1="642.90" y1="2268.50" x2="949.60" y2="2268.50" stroke="#969696" stroke-width="1" />
<line x1="642.90" y1="2295.60" x2="949.60" y2="2295.60" stroke="#969696" stroke-width="1" />
<circle cx="580.03" cy="1844.50" r="12.30" fill="#631015"/>
<circle cx="487.65" cy="1871.35" r="10.00" fill="#d32b29"/>
<circle cx="456.86" cy="1898.20" r="9.00" fill="#801a20"/>
<circle cx="410.66" cy="1925.05" r="7.60" fill="#c82223"/>
<circle cx="364.47" cy="1951.90" r="6.00" fill="#f08b70"/>
<circle cx="349.08" cy="1978.75" r="5.50" fill="#ec6a50"/>
<circle cx="349.08" cy="2005.60" r="5.50" fill="#ed7c61"/>
<circle cx="333.68" cy="2032.45" r="5.00" fill="#f29b83"/>
<circle cx="333.68" cy="2059.30" r="5.00" fill="#f7c2af"/>
<circle cx="333.68" cy="2086.15" r="5.00" fill="#f8c7b6"/>
<circle cx="318.28" cy="2113.00" r="4.70" fill="#f6b9a5"/>
<circle cx="318.28" cy="2139.85" r="4.70" fill="#f6b9a5"/>
<circle cx="318.28" cy="2166.70" r="4.70" fill="#f5bba7"/>
<circle cx="318.28" cy="2193.55" r="4.70" fill="#f6c0ad"/>
<circle cx="318.28" cy="2220.40" r="4.70" fill="#f6c0ad"/>
<circle cx="302.88" cy="2247.25" r="4.00" fill="#f5b7a2"/>
<circle cx="302.88" cy="2274.10" r="4.00" fill="#f7c3b1"/>
<circle cx="302.88" cy="2300.95" r="4.00" fill="#f7c3b1"/>
<rect x="642.90" y="1840.50" width="278.96" height="18.00" fill="#631015" />
<rect x="642.90" y="1867.10" width="206.24" height="18.00" fill="#d32b29" />
<rect x="642.90" y="1892.10" width="182.00" height="18.00" fill="#801a20" />
<rect x="642.90" y="1918.50" width="145.64" height="18.00" fill="#c82223" />
<rect x="642.90" y="1945.20" width="109.28" height="18.00" fill="#f08b70" />
<rect x="642.90" y="1972.00" width="97.16" height="18.00" fill="#ec6a50" />
<rect x="642.90" y="1998.70" width="97.16" height="18.00" fill="#ed7c61" />
<rect x="642.90" y="2023.00" width="85.04" height="18.00" fill="#f29b83" />
<rect x="642.90" y="2049.90" width="85.04" height="18.00" fill="#f7c2af" />
<rect x="642.90" y="2076.50" width="85.04" height="18.00" fill="#f8c7b6" />
<rect x="642.90" y="2103.40" width="72.92" height="18.00" fill="#f6b9a5" />
<rect x="642.90" y="2130.20" width="72.92" height="18.00" fill="#f6b9a5" />
<rect x="642.90" y="2156.70" width="72.92" height="18.00" fill="#f5bba7" />
<rect x="642.90" y="2181.60" width="72.92" height="18.00" fill="#f6c0ad" />
<rect x="642.90" y="2207.80" width="72.92" height="18.00" fill="#f6c0ad" />
<rect x="642.90" y="2234.60" width="60.80" height="18.00" fill="#f5b7a2" />
<rect x="642.90" y="2261.40" width="60.80" height="18.00" fill="#f7c3b1" />
<rect x="642.90" y="2287.70" width="60.80" height="18.00" fill="#f7c3b1" />
<rect x="287.50" y="1805.00" width="327.40" height="509.00" fill="none" stroke="#151515" stroke-width="3"/>
<line x1="287.50" y1="1830.40" x2="614.90" y2="1830.40" stroke="#151515" stroke-width="3" />
<rect x="642.90" y="1805.00" width="306.70" height="509.60" fill="none" stroke="#222" stroke-width="2.7"/>
<line x1="642.90" y1="1832.00" x2="949.60" y2="1832.00" stroke="#222" stroke-width="2.7" />
<text x="451.70" y="1824.00" font-family='"Liberation Serif", serif' font-size="17.25" font-weight="normal" text-anchor="middle" fill="#0c0c0c" >KEGG pathway analysis</text>
<text x="278.90" y="1849.72" font-family='"Liberation Serif", serif' font-size="13.8" font-weight="normal" text-anchor="end" fill="#0c0c0c" >PI3K-Akt signaling pathway (hsa04151)</text>
<line x1="281.80" y1="1844.50" x2="287.50" y2="1844.50" stroke="#111" stroke-width="2.2" />
<text x="278.90" y="1876.57" font-family='"Liberation Serif", serif' font-size="13.8" font-weight="normal" text-anchor="end" fill="#0c0c0c" >MAPK signaling pathway (hsa04010)</text>
<line x1="281.80" y1="1871.35" x2="287.50" y2="1871.35" stroke="#111" stroke-width="2.2" />
<text x="278.90" y="1903.42" font-family='"Liberation Serif", serif' font-size="13.8" font-weight="normal" text-anchor="end" fill="#0c0c0c" >Wnt signaling pathway (hsa04310)</text>
<line x1="281.80" y1="1898.20" x2="287.50" y2="1898.20" stroke="#111" stroke-width="2.2" />
<text x="278.90" y="1930.27" font-family='"Liberation Serif", serif' font-size="13.8" font-weight="normal" text-anchor="end" fill="#0c0c0c" >Foxo signaling pathway (hsa04068)</text>
<line x1="281.80" y1="1925.05" x2="287.50" y2="1925.05" stroke="#111" stroke-width="2.2" />
<text x="278.90" y="1957.12" font-family='"Liberation Serif", serif' font-size="13.8" font-weight="normal" text-anchor="end" fill="#0c0c0c" >mTOR signaling pathway (hsa04150)</text>
<line x1="281.80" y1="1951.90" x2="287.50" y2="1951.90" stroke="#111" stroke-width="2.2" />
<text x="278.90" y="1983.97" font-family='"Liberation Serif", serif' font-size="13.8" font-weight="normal" text-anchor="end" fill="#0c0c0c" >TGF-beta signaling pathway (hsa04350)</text>
<line x1="281.80" y1="1978.75" x2="287.50" y2="1978.75" stroke="#111" stroke-width="2.2" />
<text x="278.90" y="2010.82" font-family='"Liberation Serif", serif' font-size="13.8" font-weight="normal" text-anchor="end" fill="#0c0c0c" >Th17 cell differentiation (hsa04659)</text>
<line x1="281.80" y1="2005.60" x2="287.50" y2="2005.60" stroke="#111" stroke-width="2.2" />
<text x="278.90" y="2037.67" font-family='"Liberation Serif", serif' font-size="13.8" font-weight="normal" text-anchor="end" fill="#0c0c0c" >T cell receptor signaling pathway (hsa04660)</text>
<line x1="281.80" y1="2032.45" x2="287.50" y2="2032.45" stroke="#111" stroke-width="2.2" />
<text x="278.90" y="2064.52" font-family='"Liberation Serif", serif' font-size="13.8" font-weight="normal" text-anchor="end" fill="#0c0c0c" >JAK-STAT signaling pathway (hsa04630)</text>
<line x1="281.80" y1="2059.30" x2="287.50" y2="2059.30" stroke="#111" stroke-width="2.2" />
<text x="278.90" y="2091.37" font-family='"Liberation Serif", serif' font-size="13.8" font-weight="normal" text-anchor="end" fill="#0c0c0c" >NOD-like receptor signaling pathway (hsa04621)</text>
<line x1="281.80" y1="2086.15" x2="287.50" y2="2086.15" stroke="#111" stroke-width="2.2" />
<text x="278.90" y="2118.22" font-family='"Liberation Serif", serif' font-size="13.8" font-weight="normal" text-anchor="end" fill="#0c0c0c" >TNF signaling pathway (hsa04668)</text>
<line x1="281.80" y1="2113.00" x2="287.50" y2="2113.00" stroke="#111" stroke-width="2.2" />
<text x="278.90" y="2145.07" font-family='"Liberation Serif", serif' font-size="13.8" font-weight="normal" text-anchor="end" fill="#0c0c0c" >HIF-1 signaling pathway (hsa04066)</text>
<line x1="281.80" y1="2139.85" x2="287.50" y2="2139.85" stroke="#111" stroke-width="2.2" />
<text x="278.90" y="2171.92" font-family='"Liberation Serif", serif' font-size="13.8" font-weight="normal" text-anchor="end" fill="#0c0c0c" >Leukocyte transendothelial migration (hsa04670)</text>
<line x1="281.80" y1="2166.70" x2="287.50" y2="2166.70" stroke="#111" stroke-width="2.2" />
<text x="278.90" y="2198.77" font-family='"Liberation Serif", serif' font-size="13.8" font-weight="normal" text-anchor="end" fill="#0c0c0c" >AMPK signaling pathway (hsa04152)</text>
<line x1="281.80" y1="2193.55" x2="287.50" y2="2193.55" stroke="#111" stroke-width="2.2" />
<text x="278.90" y="2225.62" font-family='"Liberation Serif", serif' font-size="13.8" font-weight="normal" text-anchor="end" fill="#0c0c0c" >Regulation of autophagy (hsa04140)</text>
<line x1="281.80" y1="2220.40" x2="287.50" y2="2220.40" stroke="#111" stroke-width="2.2" />
<text x="278.90" y="2252.47" font-family='"Liberation Serif", serif' font-size="13.8" font-weight="normal" text-anchor="end" fill="#0c0c0c" >Fc epsilon RI signaling pathway (hsa04664)</text>
<line x1="281.80" y1="2247.25" x2="287.50" y2="2247.25" stroke="#111" stroke-width="2.2" />
<text x="278.90" y="2279.32" font-family='"Liberation Serif", serif' font-size="13.8" font-weight="normal" text-anchor="end" fill="#0c0c0c" >IL-17 signaling pathway (hsa04657)</text>
<line x1="281.80" y1="2274.10" x2="287.50" y2="2274.10" stroke="#111" stroke-width="2.2" />
<text x="278.90" y="2306.17" font-family='"Liberation Serif", serif' font-size="13.8" font-weight="normal" text-anchor="end" fill="#0c0c0c" >Th1 and Th2 cell differentiation (hsa04658)</text>
<line x1="281.80" y1="2300.95" x2="287.50" y2="2300.95" stroke="#111" stroke-width="2.2" />
<line x1="313.20" y1="2315.00" x2="313.20" y2="2319.50" stroke="#111" stroke-width="2.2" />
<text x="313.20" y="2331.20" font-family='"Liberation Serif", serif' font-size="9.5" font-weight="normal" text-anchor="middle" fill="#3c3c3c" >0.015</text>
<line x1="342.30" y1="2315.00" x2="342.30" y2="2319.50" stroke="#111" stroke-width="2.2" />
<text x="342.30" y="2331.20" font-family='"Liberation Serif", serif' font-size="9.5" font-weight="normal" text-anchor="middle" fill="#3c3c3c" >0.02</text>
<line x1="371.40" y1="2315.00" x2="371.40" y2="2319.50" stroke="#111" stroke-width="2.2" />
<text x="371.40" y="2331.20" font-family='"Liberation Serif", serif' font-size="9.5" font-weight="normal" text-anchor="middle" fill="#3c3c3c" >0.025</text>
<line x1="400.50" y1="2315.00" x2="400.50" y2="2319.50" stroke="#111" stroke-width="2.2" />
<text x="400.50" y="2331.20" font-family='"Liberation Serif", serif' font-size="9.5" font-weight="normal" text-anchor="middle" fill="#3c3c3c" >0.03</text>
<line x1="429.60" y1="2315.00" x2="429.60" y2="2319.50" stroke="#111" stroke-width="2.2" />
<text x="429.60" y="2331.20" font-family='"Liberation Serif", serif' font-size="9.5" font-weight="normal" text-anchor="middle" fill="#3c3c3c" >0.035</text>
<line x1="458.70" y1="2315.00" x2="458.70" y2="2319.50" stroke="#111" stroke-width="2.2" />
<text x="458.70" y="2331.20" font-family='"Liberation Serif", serif' font-size="9.5" font-weight="normal" text-anchor="middle" fill="#3c3c3c" >0.04</text>
<line x1="487.80" y1="2315.00" x2="487.80" y2="2319.50" stroke="#111" stroke-width="2.2" />
<text x="487.80" y="2331.20" font-family='"Liberation Serif", serif' font-size="9.5" font-weight="normal" text-anchor="middle" fill="#3c3c3c" >0.045</text>
<line x1="516.90" y1="2315.00" x2="516.90" y2="2319.50" stroke="#111" stroke-width="2.2" />
<text x="516.90" y="2331.20" font-family='"Liberation Serif", serif' font-size="9.5" font-weight="normal" text-anchor="middle" fill="#3c3c3c" >0.05</text>
<line x1="546.00" y1="2315.00" x2="546.00" y2="2319.50" stroke="#111" stroke-width="2.2" />
<text x="546.00" y="2331.20" font-family='"Liberation Serif", serif' font-size="9.5" font-weight="normal" text-anchor="middle" fill="#3c3c3c" >0.055</text>
<line x1="575.10" y1="2315.00" x2="575.10" y2="2319.50" stroke="#111" stroke-width="2.2" />
<text x="575.10" y="2331.20" font-family='"Liberation Serif", serif' font-size="9.5" font-weight="normal" text-anchor="middle" fill="#3c3c3c" >0.06</text>
<line x1="604.20" y1="2315.00" x2="604.20" y2="2319.50" stroke="#111" stroke-width="2.2" />
<text x="604.20" y="2331.20" font-family='"Liberation Serif", serif' font-size="9.5" font-weight="normal" text-anchor="middle" fill="#3c3c3c" >0.065</text>
<line x1="643.10" y1="2315.45" x2="643.10" y2="2320.15" stroke="#111" stroke-width="2.6" />
<text x="640.30" y="2331.80" font-family='"Liberation Serif", serif' font-size="9.5" font-weight="normal" text-anchor="middle" fill="#3c3c3c" >0</text>
<line x1="667.34" y1="2315.45" x2="667.34" y2="2320.15" stroke="#111" stroke-width="2.6" />
<text x="664.54" y="2331.80" font-family='"Liberation Serif", serif' font-size="9.5" font-weight="normal" text-anchor="middle" fill="#3c3c3c" >2</text>
<line x1="691.58" y1="2315.45" x2="691.58" y2="2320.15" stroke="#111" stroke-width="2.6" />
<text x="688.78" y="2331.80" font-family='"Liberation Serif", serif' font-size="9.5" font-weight="normal" text-anchor="middle" fill="#3c3c3c" >4</text>
<line x1="715.82" y1="2315.45" x2="715.82" y2="2320.15" stroke="#111" stroke-width="2.6" />
<text x="713.02" y="2331.80" font-family='"Liberation Serif", serif' font-size="9.5" font-weight="normal" text-anchor="middle" fill="#3c3c3c" >6</text>
<line x1="740.06" y1="2315.45" x2="740.06" y2="2320.15" stroke="#111" stroke-width="2.6" />
<text x="737.26" y="2331.80" font-family='"Liberation Serif", serif' font-size="9.5" font-weight="normal" text-anchor="middle" fill="#3c3c3c" >8</text>
<line x1="764.30" y1="2315.45" x2="764.30" y2="2320.15" stroke="#111" stroke-width="2.6" />
<text x="760.00" y="2331.80" font-family='"Liberation Serif", serif' font-size="9.5" font-weight="normal" text-anchor="middle" fill="#3c3c3c" >10</text>
<line x1="788.54" y1="2315.45" x2="788.54" y2="2320.15" stroke="#111" stroke-width="2.6" />
<text x="784.24" y="2331.80" font-family='"Liberation Serif", serif' font-size="9.5" font-weight="normal" text-anchor="middle" fill="#3c3c3c" >12</text>
<line x1="812.78" y1="2315.45" x2="812.78" y2="2320.15" stroke="#111" stroke-width="2.6" />
<text x="808.48" y="2331.80" font-family='"Liberation Serif", serif' font-size="9.5" font-weight="normal" text-anchor="middle" fill="#3c3c3c" >14</text>
<line x1="837.02" y1="2315.45" x2="837.02" y2="2320.15" stroke="#111" stroke-width="2.6" />
<text x="832.72" y="2331.80" font-family='"Liberation Serif", serif' font-size="9.5" font-weight="normal" text-anchor="middle" fill="#3c3c3c" >16</text>
<line x1="861.26" y1="2315.45" x2="861.26" y2="2320.15" stroke="#111" stroke-width="2.6" />
<text x="856.96" y="2331.80" font-family='"Liberation Serif", serif' font-size="9.5" font-weight="normal" text-anchor="middle" fill="#3c3c3c" >18</text>
<line x1="885.50" y1="2315.45" x2="885.50" y2="2320.15" stroke="#111" stroke-width="2.6" />
<text x="881.20" y="2331.80" font-family='"Liberation Serif", serif' font-size="9.5" font-weight="normal" text-anchor="middle" fill="#3c3c3c" >20</text>
<line x1="909.74" y1="2315.45" x2="909.74" y2="2320.15" stroke="#111" stroke-width="2.6" />
<text x="905.44" y="2331.80" font-family='"Liberation Serif", serif' font-size="9.5" font-weight="normal" text-anchor="middle" fill="#3c3c3c" >22</text>
<line x1="933.98" y1="2315.45" x2="933.98" y2="2320.15" stroke="#111" stroke-width="2.6" />
<text x="929.68" y="2331.80" font-family='"Liberation Serif", serif' font-size="9.5" font-weight="normal" text-anchor="middle" fill="#3c3c3c" >24</text>
<text x="451.20" y="2357.20" font-family='"Liberation Serif", serif' font-size="16.5" font-weight="normal" text-anchor="middle" fill="#0c0c0c" >GeneRatio</text>
<text x="796.25" y="2357.20" font-family='"Liberation Serif", serif' font-size="16" font-weight="normal" text-anchor="middle" fill="#0c0c0c" >Count</text>
<text transform="translate(66.4,1688.6) scale(1.04,1)" font-family='"Liberation Sans", sans-serif' font-size="55" font-weight="bold" fill="#000">c</text>
<text x="952.70" y="1842.70" font-family='"Liberation Serif", serif' font-size="13.65" font-weight="bold" text-anchor="start" fill="#0c0c0c" >-Log10_Qvalue</text>
<rect x="997.60" y="1850.50" width="16.90" height="172.70" fill="url(#gc)"/>
<line x1="1014.50" y1="1875.10" x2="1018.70" y2="1875.10" stroke="#111" stroke-width="2" />
<text x="1019.50" y="1879.20" font-family='"Liberation Serif", serif' font-size="12" font-weight="normal" text-anchor="start" fill="#0c0c0c" >6</text>
<line x1="1014.50" y1="1899.80" x2="1018.70" y2="1899.80" stroke="#111" stroke-width="2" />
<text x="1019.50" y="1903.90" font-family='"Liberation Serif", serif' font-size="12" font-weight="normal" text-anchor="start" fill="#0c0c0c" >5</text>
<line x1="1014.50" y1="1924.50" x2="1018.70" y2="1924.50" stroke="#111" stroke-width="2" />
<text x="1019.50" y="1928.60" font-family='"Liberation Serif", serif' font-size="12" font-weight="normal" text-anchor="start" fill="#0c0c0c" >4</text>
<line x1="1014.50" y1="1949.20" x2="1018.70" y2="1949.20" stroke="#111" stroke-width="2" />
<text x="1019.50" y="1953.30" font-family='"Liberation Serif", serif' font-size="12" font-weight="normal" text-anchor="start" fill="#0c0c0c" >3</text>
<line x1="1014.50" y1="1973.80" x2="1018.70" y2="1973.80" stroke="#111" stroke-width="2" />
<text x="1019.50" y="1977.90" font-family='"Liberation Serif", serif' font-size="12" font-weight="normal" text-anchor="start" fill="#0c0c0c" >2</text>
<line x1="1014.50" y1="1998.50" x2="1018.70" y2="1998.50" stroke="#111" stroke-width="2" />
<text x="1019.50" y="2002.60" font-family='"Liberation Serif", serif' font-size="12" font-weight="normal" text-anchor="start" fill="#0c0c0c" >1</text>
<line x1="1014.50" y1="2023.20" x2="1018.70" y2="2023.20" stroke="#111" stroke-width="2" />
<text x="1019.50" y="2027.30" font-family='"Liberation Serif", serif' font-size="12" font-weight="normal" text-anchor="start" fill="#0c0c0c" >0</text>
<text x="979.40" y="2062.70" font-family='"Liberation Serif", serif' font-size="13.7" font-weight="bold" text-anchor="start" fill="#0c0c0c" >Count</text>
<circle cx="997.90" cy="2087.70" r="4.40" fill="#666867"/>
<text x="1020.40" y="2091.40" font-family='"Liberation Serif", serif' font-size="13" font-weight="normal" text-anchor="start" fill="#0c0c0c" >5</text>
<circle cx="997.90" cy="2107.30" r="7.00" fill="#666867"/>
<text x="1020.40" y="2111.00" font-family='"Liberation Serif", serif' font-size="13" font-weight="normal" text-anchor="start" fill="#0c0c0c" >10</text>
<circle cx="997.90" cy="2131.50" r="9.30" fill="#666867"/>
<text x="1020.40" y="2135.20" font-family='"Liberation Serif", serif' font-size="13" font-weight="normal" text-anchor="start" fill="#0c0c0c" >15</text>
<circle cx="997.90" cy="2160.10" r="11.50" fill="#666867"/>
<text x="1020.40" y="2163.80" font-family='"Liberation Serif", serif' font-size="13" font-weight="normal" text-anchor="start" fill="#0c0c0c" >20</text>
<circle cx="997.90" cy="2193.40" r="13.70" fill="#666867"/>
<text x="1020.40" y="2197.10" font-family='"Liberation Serif", serif' font-size="13" font-weight="normal" text-anchor="start" fill="#0c0c0c" >25</text>
</g></svg></body></html>
